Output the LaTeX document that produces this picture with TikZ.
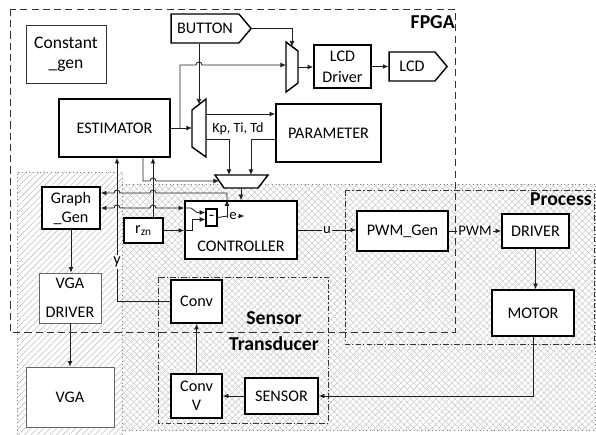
\documentclass[tikz,border=0pt]{standalone}
\usepackage{fontspec}
\setmainfont{Carlito}
\usetikzlibrary{arrows.meta, positioning, calc, shapes.symbols, patterns.meta}
\definecolor{cWire}{RGB}{30,30,30}
\tikzset{
	blk/.style     ={rectangle, draw=black, line width=1.2pt, fill=white, inner sep=0pt, align=center, font=\fontsize{11.5}{13.5}\selectfont},
	thinblk/.style ={blk, line width=0.5pt, draw=black!60},
	port/.style    ={signal, signal to=east, signal pointer angle=100, draw=black, line width=1pt, fill=white, inner sep=0pt, font=\fontsize{11.5}{13}\selectfont},
	mux/.style     ={draw=black, line width=1pt, fill=white},
	wire/.style    ={draw=cWire, line width=0.6pt, -{Latex[length=4pt,width=3.5pt]}},
	lbl/.style     ={font=\fontsize{10.5}{12}\selectfont, inner sep=1pt},
	grplbl/.style  ={font=\fontsize{14}{16}\selectfont\bfseries, inner sep=0pt},
	% frames round the groups
	fpgaframe/.style={draw=black!80, line width=0.7pt, dash pattern=on 5pt off 3pt},
	subframe/.style ={draw=black!80, line width=0.6pt, dash pattern=on 4pt off 1.5pt on 0.8pt off 1.5pt},
	area/.style     ={draw=gray, dotted, line width=0.6pt},
}
\newcommand{\hop}{arc[start angle=180, end angle=0, radius=0.075cm]}
\newcommand{\hopback}{arc[start angle=0, end angle=180, radius=0.075cm]}

\begin{document}
\begin{tikzpicture}[x=0.025cm, y=-0.025cm]
\useasboundingbox (0,0) rectangle (596,434);

% shaded areas
\fill[pattern={Lines[angle=45, distance=3.2pt, line width=0.4pt]}, pattern color=gray!50] (17,172) rectangle (122,434);
\fill[pattern={Hatch[angle=45, distance=3.2pt, line width=0.4pt]}, pattern color=gray!40] (122,184) rectangle (595,430);
\draw[area] (17,434) -- (17,172) -- (122,172) -- (122,434);
\draw[area] (122,184) -- (595,184) -- (595,430) -- (122,430);

% group frames
\draw[fpgaframe] (10,9) rectangle (455,332);
\node[grplbl, anchor=base east] (fpgalbl) at (455,28) {FPGA};
\draw[subframe] (345,190) rectangle (594,344);
\node[grplbl, anchor=base east] (proclbl) at (592,205) {Process};
\draw[subframe] (158,277) rectangle (328,423);
\node[grplbl] (senslbl) at (274,318) {Sensor};
\node[grplbl] (translbl) at (274,344) {Transducer};

% blocks
\node[thinblk, draw=black!80, minimum width=2cm, minimum height=1.45cm, font=\fontsize{12.5}{14}\selectfont] (cgen) at (66,54) {Constant\\\_gen};
\node[port, minimum width=2cm, minimum height=0.725cm] (btn) at (205,28.5) {BUTTON};
\node[blk, minimum width=1.425cm, minimum height=1.075cm, font=\fontsize{11.5}{15}\selectfont] (lcddrv) at (342.5,66.5) {LCD\\Driver};
\node[port, minimum width=1.45cm, minimum height=0.725cm] (lcd) at (412,66.5) {LCD};
\node[blk, minimum width=2.775cm, minimum height=1.45cm] (est) at (114.5,128) {ESTIMATOR};
\node[blk, minimum width=2.625cm, minimum height=1.45cm] (param) at (328.5,133) {PARAMETER};
\node[blk, minimum width=1.45cm, minimum height=1.05cm] (graph) at (71,208) {Graph\\\_Gen};
\node[blk, line width=1pt, minimum width=0.975cm, minimum height=0.625cm] (rzn) at (143.5,230.5) {r\textsubscript{zn}};
\node[blk, minimum width=2.8cm, minimum height=1.45cm] (ctrl) at (241,230) {};
\node[anchor=base, font=\fontsize{11.5}{13}\selectfont, inner sep=0pt] (ctrllbl) at (241,251.5) {CONTROLLER};
\node[blk, line width=1pt, minimum width=0.275cm, minimum height=0.425cm] (minus) at (211.5,217.5) {-};
\node[blk, minimum width=2.275cm, minimum height=1cm] (pwm) at (402.5,231) {PWM\_Gen};
\node[blk, minimum width=1.675cm, minimum height=0.85cm] (drv) at (535.5,231) {DRIVER};
\node[blk, minimum width=2.05cm, minimum height=1.15cm] (motor) at (533,313) {MOTOR};
\node[thinblk, minimum width=1.55cm, minimum height=1.25cm] (vgadrv) at (70,298) {VGA\\[7pt]DRIVER};
\node[thinblk, minimum width=2.2cm, minimum height=1.5cm] (vga) at (70,397) {VGA};
\node[blk, minimum width=1.275cm, minimum height=1.075cm] (conv) at (196.5,301.5) {Conv};
\node[blk, minimum width=1.275cm, minimum height=1.1cm] (convv) at (196.5,396) {Conv\\V};
\node[blk, minimum width=1.825cm, minimum height=0.9cm] (sensor) at (281.5,396) {SENSOR};

% multiplexers
\draw[mux] (286,42) -- (298,51) -- (298,83) -- (286,92) -- cycle;
\coordinate (m1in) at (286,65);
\coordinate (m1top) at (292,46.5);
\coordinate (m1out) at (298,67);
\draw[mux] (192,110) -- (206,99) -- (206,157) -- (192,147) -- cycle;
\coordinate (m2in) at (192,128);
\coordinate (m2top) at (199,104.5);
\coordinate (m2outa) at (206,114);
\coordinate (m2outb) at (206,139);
\draw[mux] (215,175) -- (268,175) -- (258,188) -- (224,188) -- cycle;
\coordinate (m3ina) at (229,175);
\coordinate (m3inb) at (251,175);
\coordinate (m3left) at (219,181);
\coordinate (m3out) at (241,188);

% taps on the estimator
\coordinate (estA) at ([xshift=0.0625cm]est.south);
\coordinate (estB) at ([xshift=0.7125cm]est.south);
\coordinate (estC) at ([xshift=0.9625cm]est.south);
\coordinate (esttap) at (180,128);
\coordinate (ejn) at (227,217.5);
\coordinate (etop) at (227,193);

% wires
\draw[wire] (btn.south -| m2top) -- (m2top);
\draw[wire] (btn.east) -| (m1top);
\draw[wire] (est.east) -- (m2in);
\draw[wire] (esttap) -- (180,65) -- (196,65) \hop -- (m1in);
\draw[wire] (m1out) -- (m1out -| lcddrv.west);
\draw[wire] (lcddrv.east) -- (lcd.west);
\draw[wire] (m2outa) -- (m2outa -| param.west);
\draw[wire] (m2outb) -| (m3ina);
\node[font=\fontsize{10}{11}\selectfont, inner sep=0pt] (kplbl) at (238,129) {Kp, Ti, Td};
\draw[wire] (param.west |- m2outb) -| (m3inb);
\draw[wire] (estB) -- (143,181) -- (150,181) \hop -- (m3left);
\draw[wire] (m3out) -- (m3out |- ctrl.north);

\draw[wire] (conv.west) -| (estA);
\node[lbl, fill=white, font=\fontsize{11.5}{13}\selectfont] (ylbl) at (117,262) {y};
\draw[wire] (rzn.north -| estC) -- (estC);

% error path
\node[lbl] (elbl) at (233,216) {e};
\draw[draw=cWire, line width=0.6pt] (minus.east) -- (elbl.west);
\draw[wire] (elbl.east) -- ++(6,0);
\draw[wire] (ejn) -- (ejn |- ctrl.north);
\draw[wire] (ejn |- ctrl.north) -- (etop) -- (156,193) \hopback -- (120,193) \hopback -- (graph.east |- etop);

\draw[wire, {Latex[length=4pt,width=3.5pt]}-{Latex[length=4pt,width=3.5pt]}] (graph.east) -- (114,208) \hop -- (150,208) \hop -- (ctrl.west |- graph.east);
\draw[wire] (ctrl.west |- graph.east) -- (191,208) -- (197,212.5) -- ([yshift=0.125cm]minus.west);
\draw[wire] (rzn.east) -- (ctrl.west |- rzn.east);
\draw[wire] (ctrl.west |- rzn.east) -- (192,230.5) |- ([yshift=-0.05cm]minus.west);

\draw[wire] (ctrl.east) -- node[lbl, fill=white] (ulbl) {u} (ctrl.east -| pwm.west);
\draw[wire] (pwm.east) -- node[lbl, fill=white] (pwmlbl) {PWM} (drv.west);
\draw[wire] (drv.south) -- (drv.south |- motor.north);
\draw[wire] (motor.south) |- (sensor.east);
\draw[wire] (sensor.west) -- (convv.east);
\draw[wire] (convv.north) -- (conv.south);
\draw[wire] (graph.south) -- (graph.south |- vgadrv.north);
\draw[wire] (vgadrv.south) -- (vga.north);
\end{tikzpicture}
\end{document}
